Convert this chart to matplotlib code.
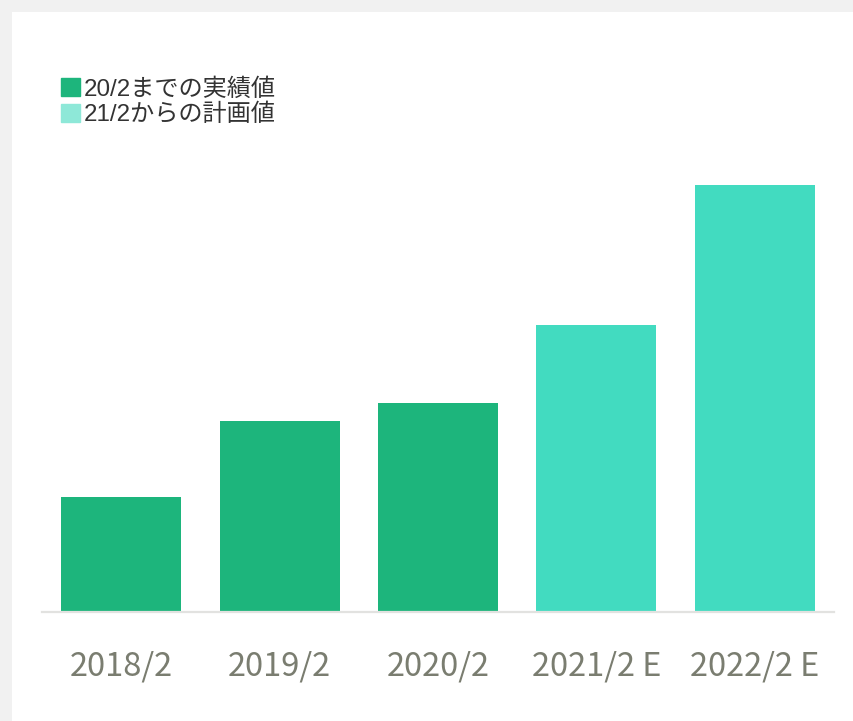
import matplotlib

matplotlib.use("Agg")
import matplotlib.pyplot as plt
from matplotlib.patches import Patch, Rectangle

plt.rcParams["font.family"] = ["Noto Sans CJK JP", "DejaVu Sans"]

categories = ["2018/2", "2019/2", "2020/2", "2021/2 E", "2022/2 E"]
values = [115, 191, 208, 286, 426]
is_plan = [False, False, False, True, True]

actual_color = "#1db57c"
plan_color = "#42dbc0"
plan_legend_color = "#8ee8d8"
legend_labels = ["20/2までの実績値", "21/2からの計画値"]

W, H = 854, 721
fig = plt.figure(figsize=(W / 100, H / 100), dpi=100, facecolor="#f1f1f1")
fig.patches.append(Rectangle((12 / W, 0), 1 - 12 / W, 1 - 12 / H,
                             transform=fig.transFigure, facecolor="white",
                             edgecolor="none", zorder=-10))

ax = fig.add_axes([42 / W, 1 - 611.5 / H, (834 - 42) / W, 461 / H])
ax.set_facecolor("none")
colors = [plan_color if p else actual_color for p in is_plan]
ax.bar(range(len(categories)), values, width=0.757, color=colors, zorder=2)
ax.set_xlim(-0.5, len(categories) - 0.5)
ax.set_ylim(0, 461)
ax.set_xticks(range(len(categories)))
ax.set_xticklabels(categories, fontsize=23.5, color="#7a7d70")
ax.tick_params(axis="x", length=0, pad=28)
ax.set_yticks([])
for side in ("top", "right", "left"):
    ax.spines[side].set_visible(False)
ax.spines["bottom"].set_color("#e2e2e0")
ax.spines["bottom"].set_linewidth(1.6)

handles = [Patch(color=actual_color), Patch(color=plan_legend_color)]
leg = fig.legend(handles, legend_labels, loc="upper left",
                 bbox_to_anchor=(61 / W, 1 - 78 / H), frameon=False,
                 prop={"family": ["Liberation Sans", "Noto Sans CJK JP"], "size": 17.4},
                 handlelength=0.8, handleheight=0.8, handletextpad=0.15,
                 labelspacing=0.12, borderpad=0, borderaxespad=0,
                 labelcolor="#333333")

fig.savefig("out.png", dpi=100, facecolor=fig.get_facecolor())
